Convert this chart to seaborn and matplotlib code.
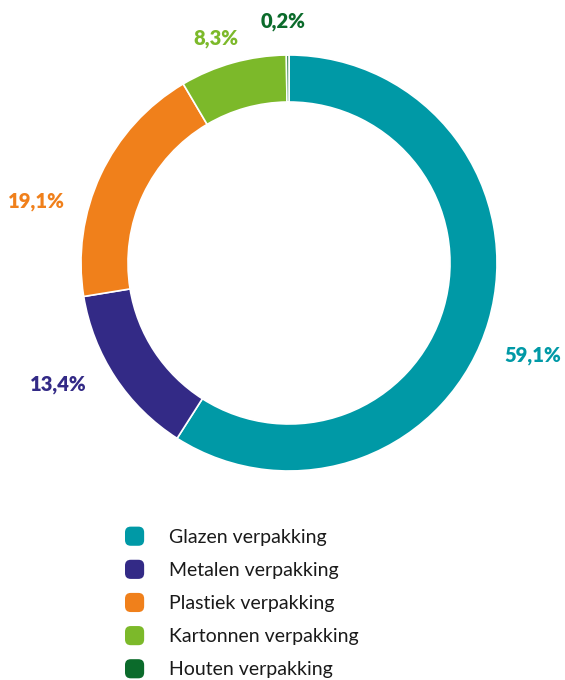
import numpy as np
import seaborn as sns
import matplotlib.pyplot as plt
from matplotlib.patches import FancyBboxPatch
from matplotlib.legend_handler import HandlerPatch

categories = ["Glazen verpakking", "Metalen verpakking", "Plastiek verpakking",
              "Kartonnen verpakking", "Houten verpakking"]
shares = [59.1, 13.4, 19.1, 8.3, 0.2]
labels = ["59,1%", "13,4%", "19,1%", "8,3%", "0,2%"]
colors = ["#0099a6", "#332a86", "#f0801b", "#7cb92a", "#0b6b2b"]

# label nudges (degrees, radius factor) because the original labels are hand placed
angle_nudge = [-4.5, -5.5, 11.5, 2.5, 1.0]
radius_fac = [1.255, 1.255, 1.25, 1.135, 1.16]

sns.set_theme(style="white")
plt.rcParams['font.family'] = ['Lato', 'DejaVu Sans']

fig = plt.figure(figsize=(5.65, 6.8), dpi=100)
ax = fig.add_axes([0, 0, 1, 1])

cx, cy, R = 289, 680 - 263, 208
wedges, _ = ax.pie(shares, colors=sns.color_palette(colors), startangle=90,
                   counterclock=False, center=(cx, cy), radius=R,
                   wedgeprops=dict(width=47, edgecolor='white', linewidth=1.2),
                   frame=True)
ax.set_xlim(0, 565)
ax.set_ylim(0, 680)
ax.set_aspect('equal')
ax.axis('off')

for w, lab, c, da, rf in zip(wedges, labels, colors, angle_nudge, radius_fac):
    mid = np.deg2rad((w.theta1 + w.theta2) / 2 + da)
    ax.text(cx + R * rf * np.cos(mid), cy + R * rf * np.sin(mid), lab,
            color=c, fontsize=14.5, fontweight='heavy', ha='center', va='center')


class RoundHandler(HandlerPatch):
    def create_artists(self, legend, orig_handle, xdescent, ydescent,
                       width, height, fontsize, trans):
        s = height * 1.1
        p = FancyBboxPatch((-xdescent + (width - s) / 2, -ydescent + (height - s) / 2),
                           s, s, boxstyle="round,pad=0,rounding_size=%f" % (s * 0.3),
                           facecolor=orig_handle.get_facecolor(), edgecolor='none',
                           transform=trans)
        return [p]


leg = fig.legend(wedges, categories, loc='upper left', bbox_to_anchor=(0.19, 0.25),
                 frameon=False, fontsize=14, handlelength=1.0, handleheight=1.0,
                 handletextpad=1.25, labelspacing=0.76,
                 handler_map={w: RoundHandler() for w in wedges})
for t in leg.get_texts():
    t.set_color('#1a1a1a')

fig.savefig('out.png', dpi=100)
